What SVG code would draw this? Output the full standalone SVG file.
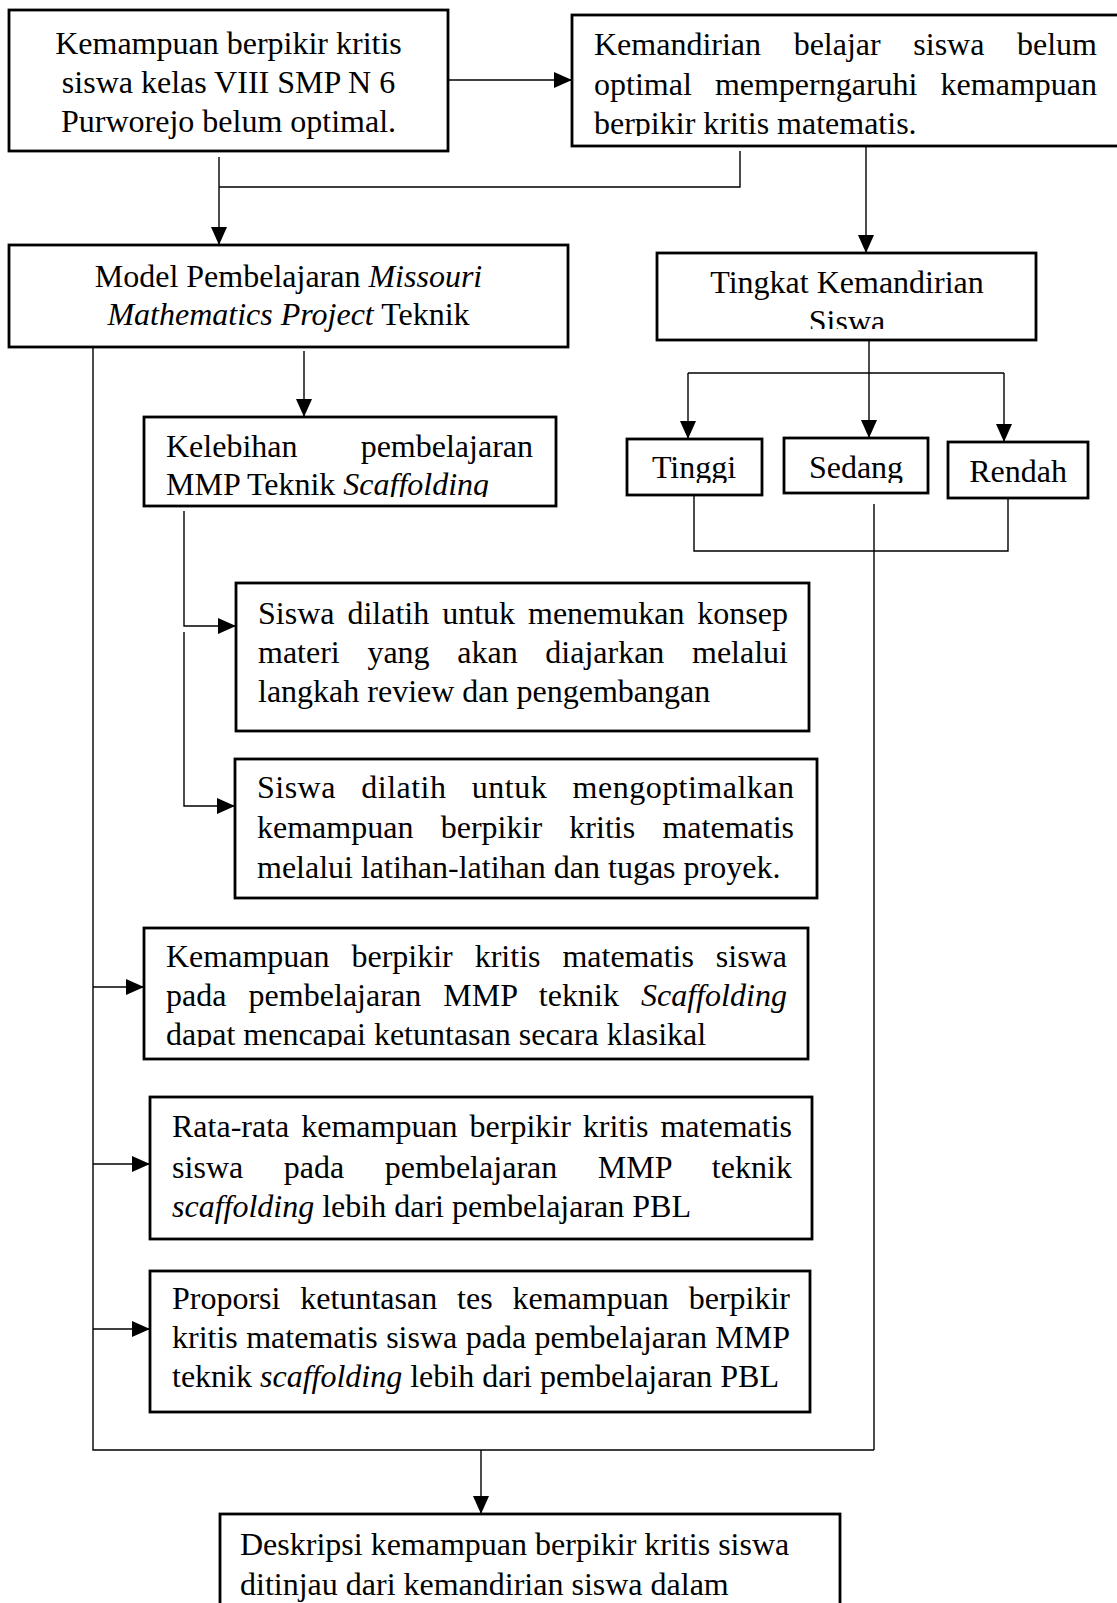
<svg xmlns="http://www.w3.org/2000/svg" width="1117" height="1603" viewBox="0 0 1117 1603">
<style>
.box{fill:#fff;stroke:#000;stroke-width:2.8}
.t{font-family:"Liberation Serif","Times New Roman",serif;font-size:32px;fill:#000}
.c{text-anchor:middle}
.e{text-anchor:end}
.i{font-style:italic}
.ln{fill:none;stroke:#000;stroke-width:1.4}
.ar{marker-end:url(#ah)}
</style>
<defs>
<marker id="ah" markerUnits="userSpaceOnUse" markerWidth="18" markerHeight="16" refX="18" refY="8" orient="auto" viewBox="0 0 18 16"><path d="M0,0 L18,8 L0,16 z" fill="#000"/></marker>
<clipPath id="cp-b2"><rect x="572" y="15" width="545" height="121"/></clipPath>
<clipPath id="cp-tk"><rect x="657" y="253" width="379" height="76"/></clipPath>
<clipPath id="cp-tg"><rect x="627" y="439" width="135" height="44"/></clipPath>
<clipPath id="cp-sd"><rect x="784" y="438" width="144" height="45"/></clipPath>
<clipPath id="cp-kl"><rect x="144" y="417" width="412" height="80"/></clipPath>
<clipPath id="cp-km"><rect x="144" y="928" width="664" height="119"/></clipPath>
</defs>
<rect width="1117" height="1603" fill="#fff"/>

<g id="connectors">
<path class="ln ar" d="M448,80 H572"/>
<path class="ln ar" d="M219,157 V245"/>
<path class="ln" d="M740,151 V187 H219"/>
<path class="ln ar" d="M866,146 V253"/>
<path class="ln ar" d="M869,340 V438"/>
<path class="ln" d="M688,373 H1004"/>
<path class="ln ar" d="M688,373 V439"/>
<path class="ln ar" d="M1004,373 V442"/>
<path class="ln" d="M694,495 V551 H1008 V498"/>
<path class="ln" d="M874,504 V1450"/>
<path class="ln ar" d="M304,351 V417"/>
<path class="ln" d="M93,347 V1450 H874"/>
<path class="ln ar" d="M184,511 V626 H236"/>
<path class="ln ar" d="M184,632 V806 H235"/>
<path class="ln ar" d="M93,987 H144"/>
<path class="ln ar" d="M93,1164 H150"/>
<path class="ln ar" d="M93,1329 H150"/>
<path class="ln ar" d="M481,1450 V1514"/>
</g>

<g id="n1">
<rect class="box" x="9" y="10" width="439" height="141"/>
<text class="t c" x="228.5" y="54">Kemampuan berpikir kritis</text>
<text class="t c" x="228.5" y="93">siswa kelas VIII SMP N 6</text>
<text class="t c" x="228.5" y="132">Purworejo belum optimal.</text>
</g>

<g id="n2">
<rect class="box" x="572" y="15" width="550" height="131"/>
<g clip-path="url(#cp-b2)">
<text class="t" x="594" y="55" word-spacing="24.6" textLength="503" lengthAdjust="spacing">Kemandirian belajar siswa belum</text>
<text class="t" x="594" y="95" word-spacing="15.1" textLength="503" lengthAdjust="spacing">optimal memperngaruhi kemampuan</text>
<text class="t" x="594" y="134">berpikir kritis matematis.</text>
</g>
</g>

<g id="n3">
<rect class="box" x="9" y="245" width="559" height="102"/>
<text class="t c" x="288.5" y="287">Model Pembelajaran <tspan class="i">Missouri</tspan></text>
<text class="t c" x="288.5" y="325"><tspan class="i">Mathematics Project</tspan> Teknik</text>
</g>

<g id="n4">
<rect class="box" x="657" y="253" width="379" height="87"/>
<g clip-path="url(#cp-tk)">
<text class="t c" x="847" y="293">Tingkat Kemandirian</text>
<text class="t c" x="847" y="332">Siswa</text>
</g>
</g>

<g id="n5">
<rect class="box" x="627" y="439" width="135" height="56"/>
<text class="t c" x="694" y="478" clip-path="url(#cp-tg)">Tinggi</text>
</g>

<g id="n6">
<rect class="box" x="784" y="438" width="144" height="55"/>
<text class="t c" x="856" y="478" clip-path="url(#cp-sd)">Sedang</text>
</g>

<g id="n7">
<rect class="box" x="948" y="442" width="140" height="56"/>
<text class="t c" x="1018" y="482">Rendah</text>
</g>

<g id="n8">
<rect class="box" x="144" y="417" width="412" height="89"/>
<g clip-path="url(#cp-kl)">
<text class="t" x="166" y="457">Kelebihan</text>
<text class="t e" x="533" y="457">pembelajaran</text>
<text class="t" x="166" y="495">MMP Teknik <tspan class="i">Scaffolding</tspan></text>
</g>
</g>

<g id="n9">
<rect class="box" x="236" y="583" width="573" height="148"/>
<text class="t" x="258" y="624" word-spacing="4.95" textLength="530" lengthAdjust="spacing">Siswa dilatih untuk menemukan konsep</text>
<text class="t" x="258" y="663" word-spacing="19.6" textLength="530" lengthAdjust="spacing">materi yang akan diajarkan melalui</text>
<text class="t" x="258" y="702">langkah review dan pengembangan</text>
</g>

<g id="n10">
<rect class="box" x="235" y="759" width="582" height="139"/>
<text class="t" x="257" y="798" word-spacing="16.9" textLength="537" lengthAdjust="spacing">Siswa dilatih untuk mengoptimalkan</text>
<text class="t" x="257" y="838" word-spacing="19.3" textLength="537" lengthAdjust="spacing">kemampuan berpikir kritis matematis</text>
<text class="t" x="257" y="878">melalui latihan-latihan dan tugas proyek.</text>
</g>

<g id="n11">
<rect class="box" x="144" y="928" width="664" height="131"/>
<g clip-path="url(#cp-km)">
<text class="t" x="166" y="967" word-spacing="13.9" textLength="621" lengthAdjust="spacing">Kemampuan berpikir kritis matematis siswa</text>
<text class="t" x="166" y="1006" word-spacing="13.9" textLength="621" lengthAdjust="spacing">pada pembelajaran MMP teknik <tspan class="i">Scaffolding</tspan></text>
<text class="t" x="166" y="1045">dapat mencapai ketuntasan secara klasikal</text>
</g>
</g>

<g id="n12">
<rect class="box" x="150" y="1097" width="662" height="142"/>
<text class="t" x="172" y="1137" word-spacing="3.9" textLength="620" lengthAdjust="spacing">Rata-rata kemampuan berpikir kritis matematis</text>
<text class="t" x="172" y="1178" word-spacing="32.4" textLength="620" lengthAdjust="spacing">siswa pada pembelajaran MMP teknik</text>
<text class="t" x="172" y="1217"><tspan class="i">scaffolding</tspan> lebih dari pembelajaran PBL</text>
</g>

<g id="n13">
<rect class="box" x="150" y="1271" width="660" height="141"/>
<text class="t" x="172" y="1309" word-spacing="11.85" textLength="618" lengthAdjust="spacing">Proporsi ketuntasan tes kemampuan berpikir</text>
<text class="t" x="172" y="1348" word-spacing="0.4" textLength="618" lengthAdjust="spacing">kritis matematis siswa pada pembelajaran MMP</text>
<text class="t" x="172" y="1387">teknik <tspan class="i">scaffolding</tspan> lebih dari pembelajaran PBL</text>
</g>

<g id="n14">
<rect class="box" x="220" y="1514" width="620" height="200"/>
<text class="t" x="240" y="1555">Deskripsi kemampuan berpikir kritis siswa</text>
<text class="t" x="240" y="1595">ditinjau dari kemandirian siswa dalam</text>
</g>
</svg>
